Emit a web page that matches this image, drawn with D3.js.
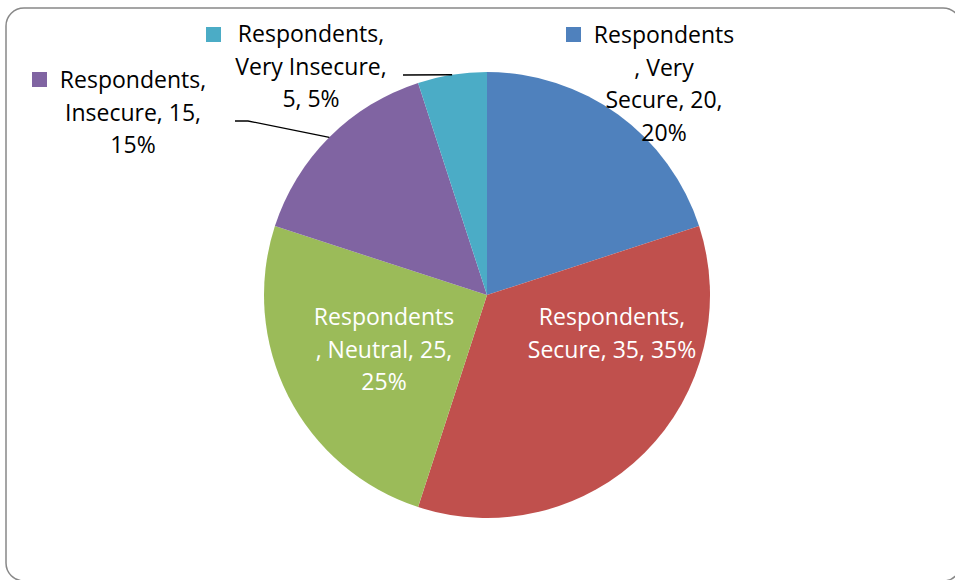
<!DOCTYPE html>
<html><head><meta charset="utf-8">
<script src="https://cdn.jsdelivr.net/npm/d3@7"></script>
<style>html,body{margin:0;padding:0;background:#fff;}svg{display:block;}</style>
</head><body>
<svg id="chart" width="955" height="580"></svg>
<script>
const categories = ["Very Secure", "Secure", "Neutral", "Insecure", "Very Insecure"];
const values = [20, 35, 25, 15, 5];
const seriesName = "Respondents";
const colors = ["#4F81BD", "#C0504D", "#9BBB59", "#8064A2", "#4BACC6"];
// label line breaks as shown in the reference
const labelLines = [
  ["Respondents", ", Very", "Secure, 20,", "20%"],
  ["Respondents,", "Secure, 35, 35%"],
  ["Respondents", ", Neutral, 25,", "25%"],
  ["Respondents,", "Insecure, 15,", "15%"],
  ["Respondents,", "Very Insecure,", "5, 5%"]
];

const svg = d3.select("#chart");
svg.append("rect").attr("x", 6).attr("y", 8).attr("width", 955).attr("height", 573)
  .attr("rx", 18).attr("ry", 18).attr("fill", "#fff").attr("stroke", "#888").attr("stroke-width", 1.5);

const cx = 487, cy = 295, R = 223;
const g = svg.append("g").attr("transform", `translate(${cx},${cy})`);
const pie = d3.pie().sort(null).value(d => d)(values);
const arc = d3.arc().innerRadius(0).outerRadius(R);
const color = d3.scaleOrdinal().domain(categories).range(colors);

g.selectAll("path").data(pie).enter().append("path")
  .attr("d", arc).attr("fill", (d, i) => color(categories[i]));

const font = "'Open Sans', sans-serif";
const fs = 23, lh = 32.5;

// label layout: center x, first baseline y, legend square position, text colour
const layout = [
  {x: 664, y: 43, key: [566, 27], fill: "#000"},
  {x: 612, y: 325, key: null, fill: "#fff"},
  {x: 384, y: 325, key: null, fill: "#fff"},
  {x: 133, y: 88, key: [32, 72], fill: "#000"},
  {x: 311, y: 42, key: [206, 27], fill: "#000"}
];

layout.forEach((L, i) => {
  const t = svg.append("text").attr("font-family", font).attr("font-size", fs)
    .attr("fill", L.fill).attr("text-anchor", "middle");
  labelLines[i].forEach((ln, j) => {
    t.append("tspan").attr("x", L.x).attr("y", L.y + j * lh).text(ln);
  });
  if (L.key) {
    svg.append("rect").attr("x", L.key[0]).attr("y", L.key[1]).attr("width", 15).attr("height", 15)
      .attr("fill", color(categories[i]));
  }
});

// leader lines
const outer = d3.arc().innerRadius(R).outerRadius(R);
const pVI = outer.centroid(pie[4]);
svg.append("polyline").attr("fill", "none").attr("stroke", "#000").attr("stroke-width", 1.3)
  .attr("points", [[403, 75], [cx + pVI[0], cy + pVI[1]]].map(p => p.join(",")).join(" "));
const pI = outer.centroid(pie[3]);
svg.append("polyline").attr("fill", "none").attr("stroke", "#000").attr("stroke-width", 1.3)
  .attr("points", [[235, 121], [248, 121], [cx + pI[0], cy + pI[1]]].map(p => p.join(",")).join(" "));
</script>
</body></html>
